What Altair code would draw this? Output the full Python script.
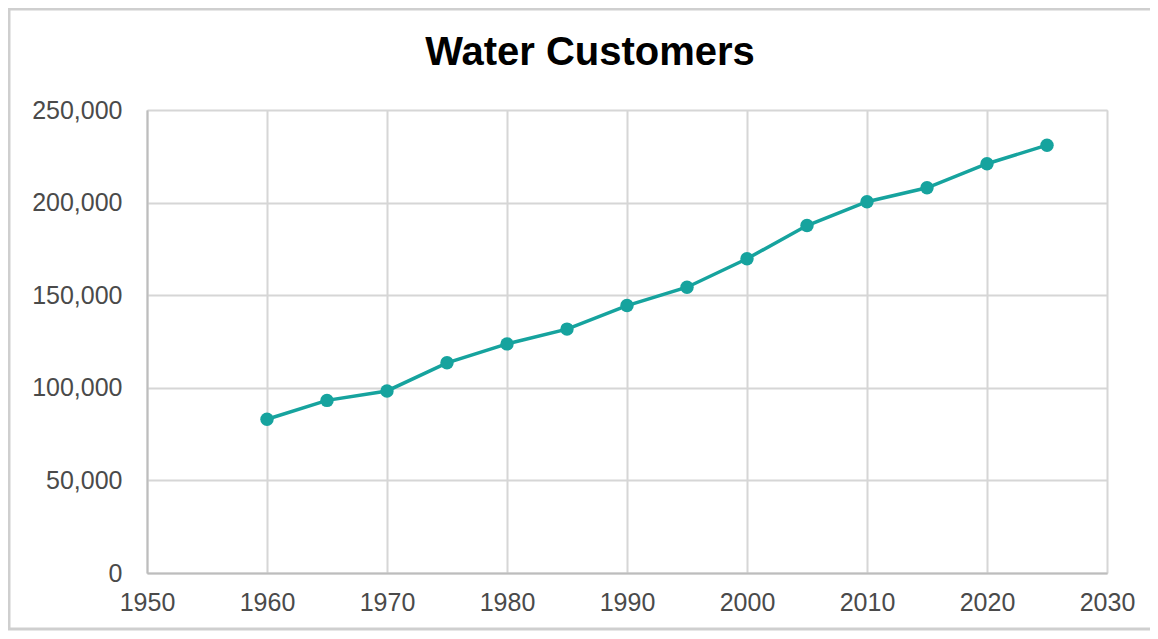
import altair as alt
import pandas as pd

years = [1960, 1965, 1970, 1975, 1980, 1985, 1990, 1995, 2000, 2005, 2010, 2015, 2020, 2025]
customers = [83000, 93200, 98300, 113500, 123700, 131700, 144400, 154300, 169700, 187600, 200500, 208000, 221000, 231000]
title_text = "Water Customers"

df = pd.DataFrame({"year": years, "customers": customers})

W, H = 960, 463
PL, PT, PR, PB = 139, 102, 43, 58

FONT = "Liberation Sans"
TEAL = "#16a39e"

x = alt.X("year:Q", scale=alt.Scale(domain=[1950, 2030], nice=False, zero=False),
          axis=alt.Axis(values=list(range(1950, 2031, 10)), format="d", title=None,
                        labelFont=FONT, labelFontSize=25, labelColor="#4a4a4a",
                        labelPadding=17, ticks=False, domainColor="#bdbdbd", domainWidth=2,
                        gridColor="#d6d6d6", gridWidth=2, labelFlush=False))
y = alt.Y("customers:Q", scale=alt.Scale(domain=[0, 250000], nice=False),
          axis=alt.Axis(values=list(range(0, 250001, 50000)), format=",d", title=None,
                        labelFont=FONT, labelFontSize=25, labelColor="#4a4a4a",
                        labelPadding=25, ticks=False, domainColor="#bdbdbd", domainWidth=2,
                        gridColor="#d6d6d6", gridWidth=2))

base = alt.Chart(df)
line = base.mark_line(color=TEAL, strokeWidth=3.5).encode(x=x, y=y)
pts = base.mark_point(filled=True, color=TEAL, size=180, opacity=1).encode(x="year:Q", y="customers:Q")

title = alt.Chart(pd.DataFrame({"t": [title_text]})).mark_text(
    font=FONT, fontSize=40, fontWeight="bold", color="#000000",
    align="center", baseline="alphabetic"
).encode(text="t:N", x=alt.value(590 - 147), y=alt.value(65 - 110))

border = alt.Chart(pd.DataFrame({"a": [0]})).mark_rect(
    fill=None, stroke="#cfcfcf", strokeWidth=3
).encode(x=alt.value(-PL + 1), x2=alt.value(W + PR + 10), y=alt.value(-PT + 1), y2=alt.value(H + PB - 2))

chart = alt.layer(border, line, pts, title).properties(
    width=W, height=H,
    autosize=alt.AutoSizeParams(type="none"),
    padding={"left": PL, "top": PT, "right": PR, "bottom": PB},
).configure_view(stroke="#d6d6d6", strokeWidth=2).configure(background="white")

chart.save("out.html", embed_options={"renderer": "svg", "actions": False})
